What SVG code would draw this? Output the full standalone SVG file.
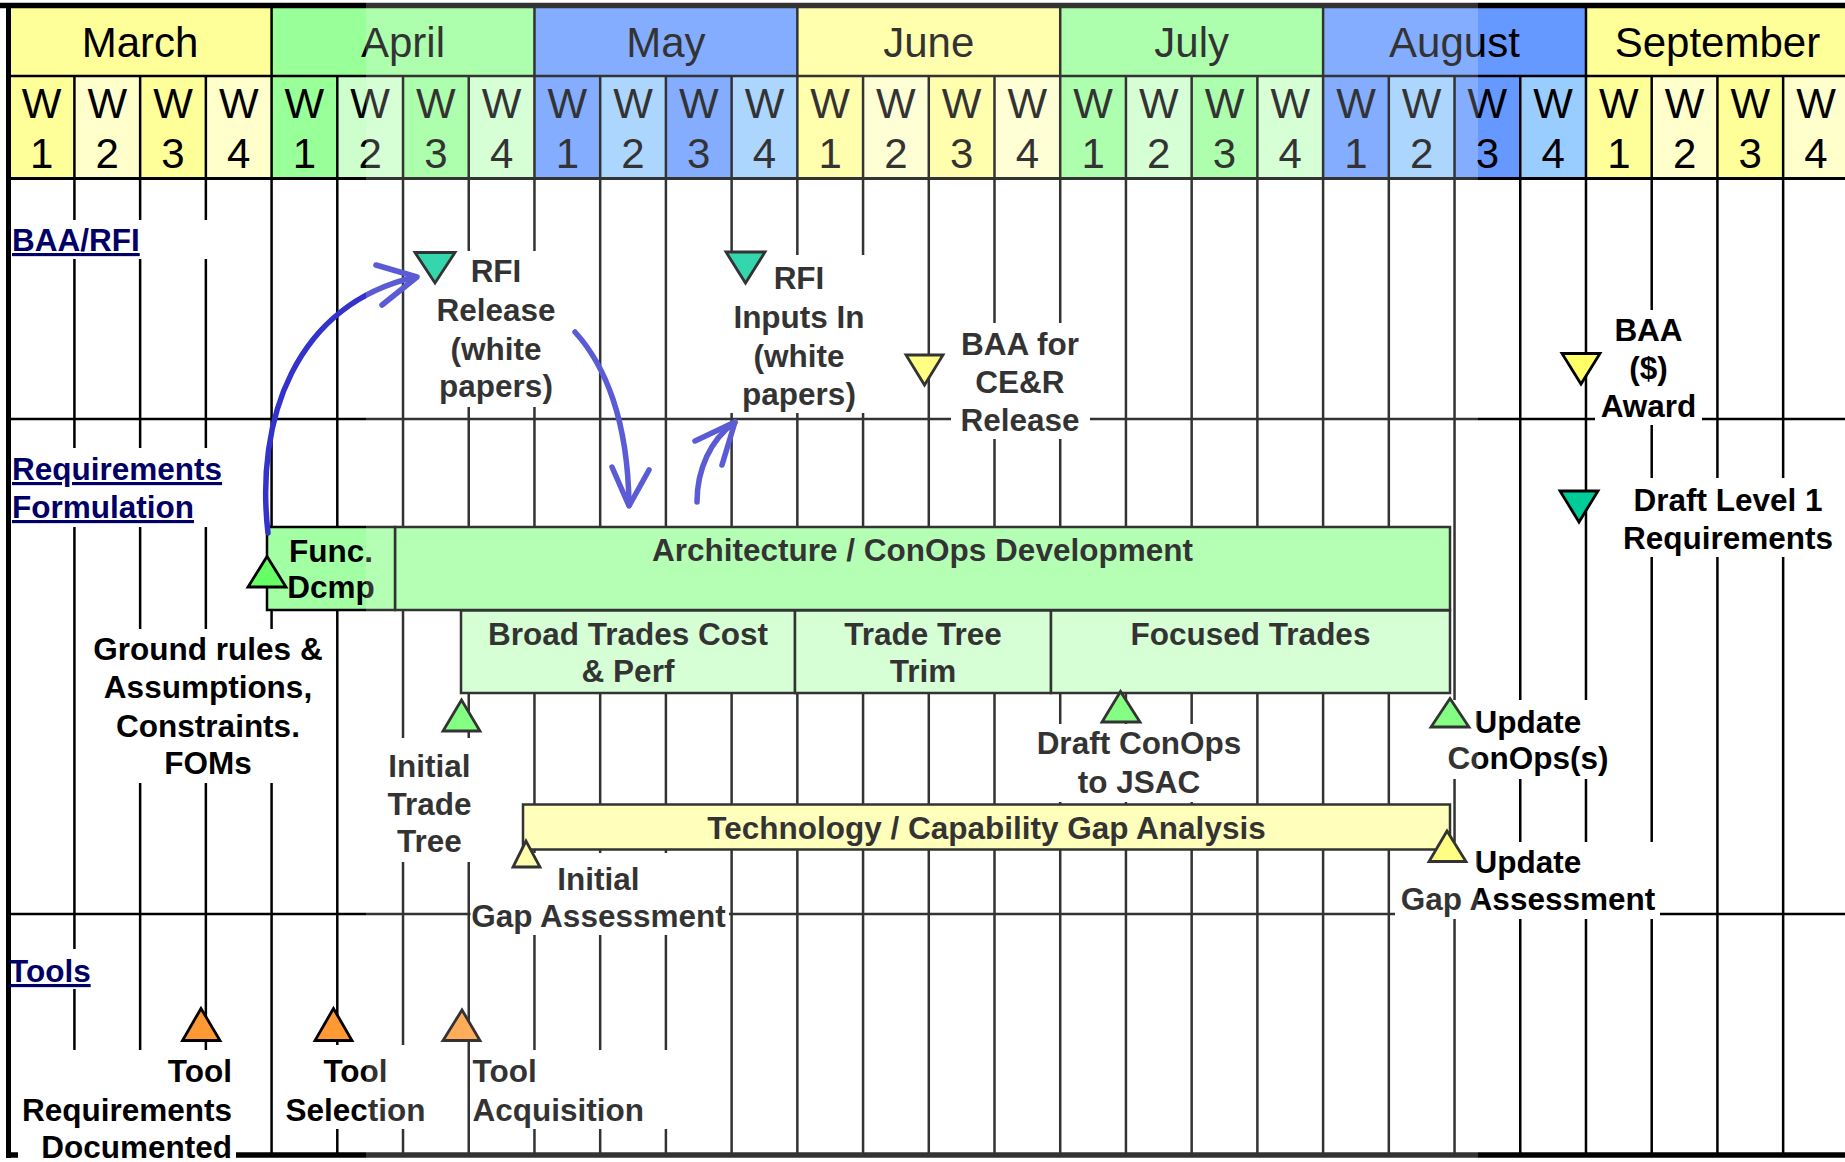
<svg xmlns="http://www.w3.org/2000/svg" width="1845" height="1162" viewBox="0 0 1845 1162">
<style>
text{font-family:"Liberation Sans",Arial,Helvetica,sans-serif}
.mon{font-size:42px;fill:#000;text-anchor:middle}
.lbl{font-size:31.5px;font-weight:bold;fill:#000;text-anchor:middle}
.lbl.le{text-anchor:start}
.lbl.re{text-anchor:end}
.sec{font-size:31.5px;font-weight:bold;fill:#000066;text-decoration:underline}
.gl{stroke:#000;stroke-width:2.5;fill:none}
.bd{stroke:#000;fill:none}
.bg{fill:#fff}
.bar{stroke:#000;stroke-width:2.5}
.tri{stroke:#000;stroke-width:2.8;stroke-linejoin:miter}
.arr{fill:none;stroke:#3333CC;stroke-width:5.5;stroke-linecap:round;stroke-linejoin:round}
.y1{fill:#FFFF99}.y2{fill:#FFFFCC}.g1{fill:#99FF99}.g2{fill:#CCFFCC}.b1{fill:#6699FF}.b2{fill:#99CCFF}
</style>
<rect width="1845" height="1162" fill="#fff"/>
<g id="header">
<rect class="y1" x="8.7" y="8" width="262.9" height="68"/>
<rect class="g1" x="271.58" y="8" width="262.9" height="68"/>
<rect class="b1" x="534.46" y="8" width="262.9" height="68"/>
<rect class="y1" x="797.34" y="8" width="262.9" height="68"/>
<rect class="g1" x="1060.22" y="8" width="262.9" height="68"/>
<rect class="b1" x="1323.1" y="8" width="262.9" height="68"/>
<rect class="y1" x="1585.98" y="8" width="262.9" height="68"/>
<rect class="y1" x="8.7" y="76" width="65.72" height="102.5"/>
<rect class="y2" x="74.42" y="76" width="65.72" height="102.5"/>
<rect class="y1" x="140.14" y="76" width="65.72" height="102.5"/>
<rect class="y2" x="205.86" y="76" width="65.72" height="102.5"/>
<rect class="g1" x="271.58" y="76" width="65.72" height="102.5"/>
<rect class="g2" x="337.3" y="76" width="65.72" height="102.5"/>
<rect class="g1" x="403.02" y="76" width="65.72" height="102.5"/>
<rect class="g2" x="468.74" y="76" width="65.72" height="102.5"/>
<rect class="b1" x="534.46" y="76" width="65.72" height="102.5"/>
<rect class="b2" x="600.18" y="76" width="65.72" height="102.5"/>
<rect class="b1" x="665.9" y="76" width="65.72" height="102.5"/>
<rect class="b2" x="731.62" y="76" width="65.72" height="102.5"/>
<rect class="y1" x="797.34" y="76" width="65.72" height="102.5"/>
<rect class="y2" x="863.06" y="76" width="65.72" height="102.5"/>
<rect class="y1" x="928.78" y="76" width="65.72" height="102.5"/>
<rect class="y2" x="994.5" y="76" width="65.72" height="102.5"/>
<rect class="g1" x="1060.22" y="76" width="65.72" height="102.5"/>
<rect class="g2" x="1125.94" y="76" width="65.72" height="102.5"/>
<rect class="g1" x="1191.66" y="76" width="65.72" height="102.5"/>
<rect class="g2" x="1257.38" y="76" width="65.72" height="102.5"/>
<rect class="b1" x="1323.1" y="76" width="65.72" height="102.5"/>
<rect class="b2" x="1388.82" y="76" width="65.72" height="102.5"/>
<rect class="b1" x="1454.54" y="76" width="65.72" height="102.5"/>
<rect class="b2" x="1520.26" y="76" width="65.72" height="102.5"/>
<rect class="y1" x="1585.98" y="76" width="65.72" height="102.5"/>
<rect class="y2" x="1651.7" y="76" width="65.72" height="102.5"/>
<rect class="y1" x="1717.42" y="76" width="65.72" height="102.5"/>
<rect class="y2" x="1783.14" y="76" width="65.72" height="102.5"/>
<text class="mon" x="140.1" y="57">March</text>
<text class="mon" x="403" y="57">April</text>
<text class="mon" x="665.9" y="57">May</text>
<text class="mon" x="928.8" y="57">June</text>
<text class="mon" x="1191.7" y="57">July</text>
<text class="mon" x="1454.5" y="57">August</text>
<text class="mon" x="1717.4" y="57">September</text>
<g class="mon">
<text x="41.56" y="118">W</text><text x="41.56" y="168">1</text>
<text x="107.28" y="118">W</text><text x="107.28" y="168">2</text>
<text x="173" y="118">W</text><text x="173" y="168">3</text>
<text x="238.72" y="118">W</text><text x="238.72" y="168">4</text>
<text x="304.44" y="118">W</text><text x="304.44" y="168">1</text>
<text x="370.16" y="118">W</text><text x="370.16" y="168">2</text>
<text x="435.88" y="118">W</text><text x="435.88" y="168">3</text>
<text x="501.6" y="118">W</text><text x="501.6" y="168">4</text>
<text x="567.32" y="118">W</text><text x="567.32" y="168">1</text>
<text x="633.04" y="118">W</text><text x="633.04" y="168">2</text>
<text x="698.76" y="118">W</text><text x="698.76" y="168">3</text>
<text x="764.48" y="118">W</text><text x="764.48" y="168">4</text>
<text x="830.2" y="118">W</text><text x="830.2" y="168">1</text>
<text x="895.92" y="118">W</text><text x="895.92" y="168">2</text>
<text x="961.64" y="118">W</text><text x="961.64" y="168">3</text>
<text x="1027.36" y="118">W</text><text x="1027.36" y="168">4</text>
<text x="1093.08" y="118">W</text><text x="1093.08" y="168">1</text>
<text x="1158.8" y="118">W</text><text x="1158.8" y="168">2</text>
<text x="1224.52" y="118">W</text><text x="1224.52" y="168">3</text>
<text x="1290.24" y="118">W</text><text x="1290.24" y="168">4</text>
<text x="1355.96" y="118">W</text><text x="1355.96" y="168">1</text>
<text x="1421.68" y="118">W</text><text x="1421.68" y="168">2</text>
<text x="1487.4" y="118">W</text><text x="1487.4" y="168">3</text>
<text x="1553.12" y="118">W</text><text x="1553.12" y="168">4</text>
<text x="1618.84" y="118">W</text><text x="1618.84" y="168">1</text>
<text x="1684.56" y="118">W</text><text x="1684.56" y="168">2</text>
<text x="1750.28" y="118">W</text><text x="1750.28" y="168">3</text>
<text x="1816" y="118">W</text><text x="1816" y="168">4</text>
</g>
<path class="gl" d="M8 76H1845"/>
<path class="gl" d="M271.58 8V178M534.46 8V178M797.34 8V178M1060.22 8V178M1323.1 8V178M1585.98 8V178"/>
<path class="gl" d="M74.42 76V178M140.14 76V178M205.86 76V178M337.3 76V178M403.02 76V178M468.74 76V178M600.18 76V178M665.9 76V178M731.62 76V178M863.06 76V178M928.78 76V178M994.5 76V178M1125.94 76V178M1191.66 76V178M1257.38 76V178M1388.82 76V178M1454.54 76V178M1520.26 76V178M1651.7 76V178M1717.42 76V178M1783.14 76V178"/>
</g>
<g id="grid">
<path class="gl" d="M74.42 178V1155M140.14 178V1155M205.86 178V1155M271.58 178V1155M337.3 178V1155M403.02 178V1155M468.74 178V1155M534.46 178V1155M600.18 178V1155M665.9 178V1155M731.62 178V1155M797.34 178V1155M863.06 178V1155M928.78 178V1155M994.5 178V1155M1060.22 178V1155M1125.94 178V1155M1191.66 178V1155M1257.38 178V1155M1323.1 178V1155M1388.82 178V1155M1454.54 178V1155M1520.26 178V1155M1585.98 178V1155M1651.7 178V1155M1717.42 178V1155M1783.14 178V1155"/>
<path class="gl" d="M8 419H1845M8 914H1845"/>
<path class="bd" stroke-width="3" d="M8 178.5H1845"/>
<path class="bd" stroke-width="5.5" d="M0 5.5H1845M6 1155H1845"/>
<path class="bd" stroke-width="5" d="M8.5 3V1158"/>
</g>
<g id="label-backgrounds">
<rect class="bg" x="11" y="220" width="201" height="39"/>
<rect class="bg" x="11" y="448" width="217" height="79"/>
<rect class="bg" x="432" y="251" width="128" height="156"/>
<rect class="bg" x="727" y="255" width="145" height="158"/>
<rect class="bg" x="951" y="323" width="139" height="116"/>
<rect class="bg" x="1595" y="310" width="107" height="115"/>
<rect class="bg" x="1612" y="478" width="233" height="79"/>
<rect class="bg" x="85" y="629" width="245" height="154"/>
<rect class="bg" x="385" y="738" width="89" height="124"/>
<rect class="bg" x="470.5" y="853" width="258.5" height="82"/>
<rect class="bg" x="1033" y="724" width="212" height="78"/>
<rect class="bg" x="1440" y="700" width="175" height="79"/>
<rect class="bg" x="1395" y="842" width="265" height="77"/>
<rect class="bg" x="11" y="949" width="89" height="40"/>
<rect class="bg" x="18" y="1050" width="218" height="112"/>
<rect class="bg" x="283" y="1045" width="145" height="84"/>
<rect class="bg" x="471" y="1050" width="209" height="79"/>
</g>
<g id="sections">
<text class="sec" x="12" y="251">BAA/RFI</text>
<text class="sec" x="12" y="480">Requirements</text>
<text class="sec" x="12" y="518">Formulation</text>
<text class="sec" x="9" y="982">Tools</text>
</g>
<g id="arch-conops">
<rect class="bar" x="395" y="527" width="1055" height="83" fill="#A3FFA3"/>
<text class="lbl" x="922.5" y="560.5">Architecture / ConOps Development</text>
</g>
<g id="func-dcmp">
<rect class="bar" x="267" y="527" width="128" height="83" fill="#A3FFA3"/>
<text class="lbl" x="331" y="562">Func.</text>
<text class="lbl" x="331" y="598">Dcmp</text>
<polygon class="tri" points="267,556.5 248,587 286,587" fill="#66FF66"/>
</g>
<g id="broad-trades">
<rect class="bar" x="461" y="610.5" width="334" height="82.5" fill="#CCFFCC"/>
<text class="lbl" x="628" y="645">Broad Trades Cost</text>
<text class="lbl" x="628" y="682">&amp; Perf</text>
</g>
<g id="trade-tree-trim">
<rect class="bar" x="795" y="610.5" width="256" height="82.5" fill="#CCFFCC"/>
<text class="lbl" x="923" y="645">Trade Tree</text>
<text class="lbl" x="923" y="682">Trim</text>
</g>
<g id="focused-trades">
<rect class="bar" x="1051" y="610.5" width="399" height="82.5" fill="#CCFFCC"/>
<text class="lbl" x="1250.5" y="645">Focused Trades</text>
</g>
<g id="tech-gap">
<rect class="bar" x="523" y="804.5" width="927" height="45" fill="#FFFFAA"/>
<text class="lbl" x="986.5" y="838.5">Technology / Capability Gap Analysis</text>
</g>
<g id="rfi-release">
<polygon class="tri" points="415,252.5 455,252.5 435,283" fill="#00CC99"/>
<text class="lbl" x="496" y="282">RFI</text>
<text class="lbl" x="496" y="321">Release</text>
<text class="lbl" x="496" y="359.5">(white</text>
<text class="lbl" x="496" y="397">papers)</text>
</g>
<g id="rfi-inputs">
<polygon class="tri" points="726,252 765,252 745.5,283" fill="#00CC99"/>
<text class="lbl" x="799" y="289">RFI</text>
<text class="lbl" x="799" y="328">Inputs In</text>
<text class="lbl" x="799" y="367">(white</text>
<text class="lbl" x="799" y="405">papers)</text>
</g>
<g id="baa-cer">
<polygon class="tri" points="906,355 943,355 924.5,385" fill="#FFFF66"/>
<text class="lbl" x="1020" y="355">BAA for</text>
<text class="lbl" x="1020" y="393">CE&amp;R</text>
<text class="lbl" x="1020" y="431">Release</text>
</g>
<g id="baa-award">
<polygon class="tri" points="1562,353.5 1600,353.5 1581,384" fill="#FFFF66"/>
<text class="lbl" x="1648.5" y="340.5">BAA</text>
<text class="lbl" x="1648.5" y="378.5">($)</text>
<text class="lbl" x="1648.5" y="416.5">Award</text>
</g>
<g id="draft-level1">
<polygon class="tri" points="1560,491 1598,491 1579,522" fill="#00CC99"/>
<text class="lbl" x="1728" y="511">Draft Level 1</text>
<text class="lbl" x="1728" y="548.5">Requirements</text>
</g>
<g id="ground-rules">
<text class="lbl" x="208" y="659.5">Ground rules &amp;</text>
<text class="lbl" x="208" y="698">Assumptions,</text>
<text class="lbl" x="208" y="736.5">Constraints.</text>
<text class="lbl" x="208" y="774">FOMs</text>
</g>
<g id="initial-trade-tree">
<polygon class="tri" points="461.5,700 443,731 480,731" fill="#66FF66"/>
<text class="lbl" x="429.5" y="777">Initial</text>
<text class="lbl" x="429.5" y="815">Trade</text>
<text class="lbl" x="429.5" y="852">Tree</text>
</g>
<g id="initial-gap">
<polygon class="tri" points="526,841 513,867 540,867" fill="#FFFF99"/>
<text class="lbl" x="598.5" y="889.5">Initial</text>
<text class="lbl" x="598.5" y="927">Gap Assessment</text>
</g>
<g id="draft-conops">
<polygon class="tri" points="1120.5,691.5 1102,722 1140,722" fill="#66FF66"/>
<text class="lbl" x="1139" y="754">Draft ConOps</text>
<text class="lbl" x="1139" y="792.5">to JSAC</text>
</g>
<g id="update-conops">
<polygon class="tri" points="1450,698.5 1431,727 1469,727" fill="#66FF66"/>
<text class="lbl" x="1528" y="732.5">Update</text>
<text class="lbl" x="1528" y="769">ConOps(s)</text>
</g>
<g id="update-gap">
<polygon class="tri" points="1447,831 1429,861.5 1466,861.5" fill="#FFFF66"/>
<text class="lbl" x="1528" y="872.5">Update</text>
<text class="lbl" x="1528" y="910">Gap Assessment</text>
</g>
<g id="tool-requirements">
<polygon class="tri" points="201,1008.5 182.5,1040.5 220,1040.5" fill="#FF9933"/>
<text class="lbl re" x="232" y="1082">Tool</text>
<text class="lbl re" x="232" y="1120.5">Requirements</text>
<text class="lbl re" x="232" y="1158">Documented</text>
</g>
<g id="tool-selection">
<polygon class="tri" points="333.5,1008.5 315,1040.5 352,1040.5" fill="#FF9933"/>
<text class="lbl" x="355.5" y="1082">Tool</text>
<text class="lbl" x="355.5" y="1120.5">Selection</text>
</g>
<g id="tool-acquisition">
<polygon class="tri" points="462,1010 443,1040.5 480,1040.5" fill="#FF9933"/>
<text class="lbl le" x="472.5" y="1082">Tool</text>
<text class="lbl le" x="472.5" y="1120.5">Acquisition</text>
</g>
<g id="connectors">
<path class="arr" d="M268 533C255 420 295 305 415 277"/>
<polyline class="arr" points="376,265 417,277 382,305"/>
<path class="arr" d="M575 332C605 365 628 420 629 505"/>
<polyline class="arr" points="612,467 629,506 649,470"/>
<path class="arr" d="M697 502C697 470 710 440 735 422"/>
<polyline class="arr" points="695,441 735,422 722,465"/>
</g>
<rect x="366" y="0" width="1112" height="1162" fill="#fff" opacity="0.2"/>
</svg>
